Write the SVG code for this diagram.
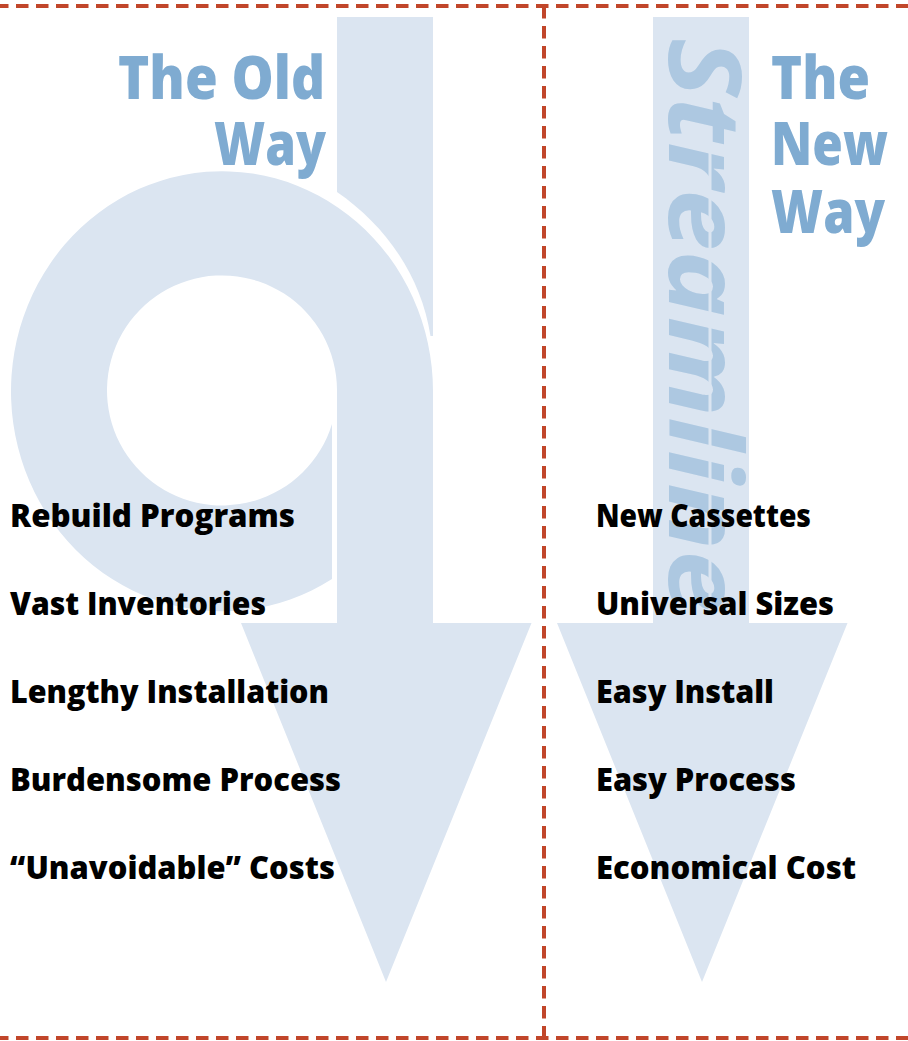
<svg xmlns="http://www.w3.org/2000/svg" width="908" height="1041" viewBox="0 0 908 1041">
<style>
.a{fill:#dbe5f1}
.d{fill:none;stroke:#c1462a;stroke-width:4;stroke-dasharray:12.5 7.5}
.t{font-family:"Open Sans","Noto Sans",sans-serif;font-weight:800;font-size:61px;fill:#7fabd1}
.l{font-family:"Open Sans","Noto Sans",sans-serif;font-weight:800;font-size:32px;fill:#000}
.s{font-family:"Open Sans","Liberation Sans",sans-serif;font-weight:700;font-style:italic;font-size:100px;fill:#adc8e1}
</style>
<rect width="908" height="1041" fill="#fff"/>
<g id="old-arrow">
<path class="a" d="M337,17H433V336H430.500C421,275 385,225 337,192Z"/>
<path class="a" d="M433,391A211,220 0 1 0 332,579V424A115,115 0 1 1 337,390V623H241L386,982L531.500,623H433Z"/>
<text class="t" x="118" y="99" textLength="207" lengthAdjust="spacingAndGlyphs">The Old</text>
<text class="t" x="214" y="165" textLength="112" lengthAdjust="spacingAndGlyphs">Way</text>
</g>
<g id="new-arrow">
<path class="a" d="M653,17H749V623H847.500L702,982L557,623H653Z"/>
<text class="s" transform="translate(669,38) rotate(90)" textLength="574" lengthAdjust="spacingAndGlyphs">Streamline</text>
<rect class="a" x="708.500" y="135" width="3" height="480"/>
<text class="t" x="771" y="99" textLength="99" lengthAdjust="spacingAndGlyphs">The</text>
<text class="t" x="771" y="165" textLength="117" lengthAdjust="spacingAndGlyphs">New</text>
<text class="t" x="771" y="233" textLength="114" lengthAdjust="spacingAndGlyphs">Way</text>
</g>
<g id="old-list">
<text class="l" x="10" y="527" textLength="285" lengthAdjust="spacingAndGlyphs">Rebuild Programs</text>
<text class="l" x="10" y="615" textLength="256" lengthAdjust="spacingAndGlyphs">Vast Inventories</text>
<text class="l" x="10" y="703" textLength="319" lengthAdjust="spacingAndGlyphs">Lengthy Installation</text>
<text class="l" x="10" y="791" textLength="331" lengthAdjust="spacingAndGlyphs">Burdensome Process</text>
<text class="l" x="10" y="879" textLength="325" lengthAdjust="spacingAndGlyphs">“Unavoidable” Costs</text>
</g>
<g id="new-list">
<text class="l" x="596" y="527" textLength="215" lengthAdjust="spacingAndGlyphs">New Cassettes</text>
<text class="l" x="596" y="615" textLength="238" lengthAdjust="spacingAndGlyphs">Universal Sizes</text>
<text class="l" x="596" y="703" textLength="178" lengthAdjust="spacingAndGlyphs">Easy Install</text>
<text class="l" x="596" y="791" textLength="200" lengthAdjust="spacingAndGlyphs">Easy Process</text>
<text class="l" x="596" y="879" textLength="260" lengthAdjust="spacingAndGlyphs">Economical Cost</text>
</g>
<g id="connectors">
<path class="d" d="M-4,6H908"/>
<path class="d" d="M-4,1038H908"/>
<path class="d" d="M544,6V1038"/>
</g>
</svg>
